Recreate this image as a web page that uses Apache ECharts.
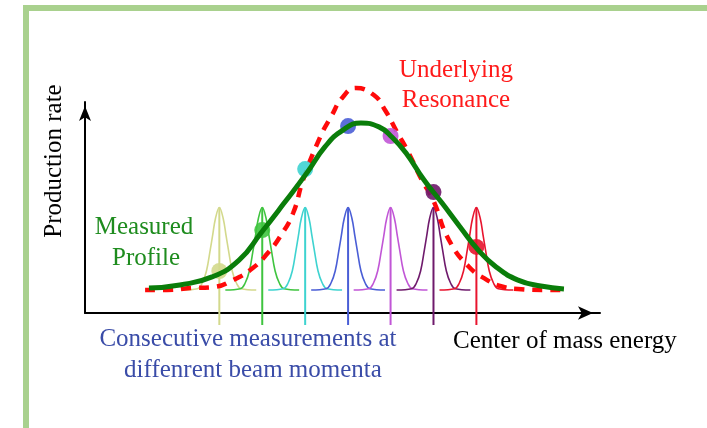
<!DOCTYPE html>
<html>
<head>
<meta charset="utf-8">
<script src="https://cdn.jsdelivr.net/npm/echarts@6/dist/echarts.min.js"></script>
<style>
  html, body { margin: 0; padding: 0; background: #fff; }
  #chart { width: 707px; height: 428px; }
</style>
</head>
<body>
<div id="chart"></div>
<script>
// centres of the beam momentum scans (energy units)
var peakCenters = [3.13, 4.13, 5.13, 6.13, 7.12, 8.12, 9.12];
// measured rate at each scan point
var dotRates = [1.99, 3.93, 6.82, 8.86, 8.39, 5.73, 3.13];
// shape of one beam energy spread
var peakOffsets = [-0.86, -0.51, -0.40, -0.30, -0.21, -0.16, -0.09, 0, 0.09, 0.16, 0.21, 0.30, 0.40, 0.51, 0.86];
var peakHeights = [1.09, 1.15, 1.41, 1.99, 3.02, 3.63, 4.48, 5.0, 4.48, 3.63, 3.02, 1.99, 1.41, 1.15, 1.09];
var peakLineBottom = -0.57;

// measured profile (green)
var profileX = [1.49, 2.21, 2.96, 3.59, 4.10, 4.64, 5.17, 5.59, 6.01, 6.43, 6.85, 7.15, 7.48, 7.90, 8.32, 8.74, 9.16, 9.58, 10.09, 10.62, 11.16];
var profileY = [1.18, 1.33, 1.71, 2.51, 3.79, 5.21, 6.64, 7.87, 8.67, 9.00, 8.82, 8.34, 7.58, 6.30, 5.21, 4.08, 2.99, 2.18, 1.56, 1.28, 1.14];

// underlying resonance (red dashed)
var resonanceX = [1.40, 1.91, 2.45, 2.98, 3.45, 3.91, 4.26, 4.54, 4.85, 5.08, 5.48, 5.73, 6.01, 6.31, 6.73, 6.99, 7.27, 7.53, 7.85, 8.11, 8.48, 8.95, 9.37, 9.67, 10.09, 10.76, 11.23];
var resonanceY = [1.09, 1.09, 1.18, 1.23, 1.56, 2.13, 2.84, 3.60, 4.74, 6.30, 8.34, 9.29, 10.24, 10.66, 10.33, 9.62, 8.58, 7.63, 6.30, 5.36, 3.46, 2.18, 1.56, 1.28, 1.14, 1.09, 1.09];

var peakColors = ['#d3d98c', '#3fc43f', '#3ed3d0', '#4a5ed6', '#c156d6', '#6f1a6c', '#e8142e'];
var serif = "'Liberation Serif', 'Times New Roman', serif";

function pairs(xs, ys) {
  var out = [];
  for (var i = 0; i < xs.length; i++) {
    out.push([xs[i], ys[i]]);
  }
  return out;
}

var series = [];

// small peaks and their markers
for (var i = 0; i < peakCenters.length; i++) {
  var c = peakCenters[i];
  var xs = peakOffsets.map(function(o) { return c + o; });
  series.push({
    type: 'line',
    data: pairs(xs, peakHeights),
    smooth: 0.4,
    showSymbol: false,
    clip: false,
    lineStyle: { color: peakColors[i], width: 1.6 },
    z: 2
  });
  series.push({
    type: 'line',
    data: [[c, peakHeights[7]], [c, peakLineBottom]],
    showSymbol: false,
    clip: false,
    lineStyle: { color: peakColors[i], width: 2 },
    z: 2
  });
}

series.push({
  type: 'line',
  data: pairs(resonanceX, resonanceY),
  smooth: 0.5,
  showSymbol: false,
  clip: false,
  lineStyle: { color: '#ff0a0a', width: 4.5, type: [10, 8], cap: 'butt' },
  z: 3
});

series.push({
  type: 'scatter',
  data: pairs(peakCenters, dotRates),
  symbolSize: 16,
  clip: false,
  itemStyle: {
    color: function(p) { return peakColors[p.dataIndex]; },
    opacity: 0.9
  },
  z: 4
});

series.push({
  type: 'line',
  data: pairs(profileX, profileY),
  smooth: 0.5,
  showSymbol: false,
  clip: false,
  lineStyle: { color: '#0a7d0a', width: 5 },
  z: 5
});

var chart = echarts.init(document.getElementById('chart'));
chart.setOption({
  animation: false,
  backgroundColor: '#fff',
  grid: { left: 85, right: 107, top: 102, bottom: 115 },
  xAxis: {
    type: 'value', min: 0, max: 12,
    axisLine: { lineStyle: { color: '#000', width: 2 }, symbol: ['none', 'arrow'], symbolSize: [10, 15], symbolOffset: [0, -7] },
    axisTick: { show: false }, axisLabel: { show: false }, splitLine: { show: false }
  },
  yAxis: {
    type: 'value', min: 0, max: 10,
    axisLine: { lineStyle: { color: '#000', width: 2 }, symbol: ['none', 'arrow'], symbolSize: [9, 15], symbolOffset: [0, -4] },
    axisTick: { show: false }, axisLabel: { show: false }, splitLine: { show: false }
  },
  series: series,
  graphic: [
    { type: 'rect', shape: { x: 26, y: 8, width: 800, height: 440 }, style: { fill: 'none', stroke: '#a9d18e', lineWidth: 6 }, silent: true },
    { type: 'text', x: 54, y: 161, rotation: Math.PI / 2, style: { text: 'Production rate', font: '25px ' + serif, fill: '#000', align: 'center', verticalAlign: 'middle' } },
    { type: 'text', x: 144, y: 227, style: { text: 'Measured', font: '25px ' + serif, fill: '#1e8c1e', align: 'center', verticalAlign: 'middle' } },
    { type: 'text', x: 146, y: 258, style: { text: 'Profile', font: '25px ' + serif, fill: '#1e8c1e', align: 'center', verticalAlign: 'middle' } },
    { type: 'text', x: 456, y: 70, style: { text: 'Underlying', font: '25px ' + serif, fill: '#ff1a1a', align: 'center', verticalAlign: 'middle' } },
    { type: 'text', x: 456, y: 100, style: { text: 'Resonance', font: '25px ' + serif, fill: '#ff1a1a', align: 'center', verticalAlign: 'middle' } },
    { type: 'text', x: 248, y: 339, style: { text: 'Consecutive measurements at', font: '25px ' + serif, fill: '#3a4ca8', align: 'center', verticalAlign: 'middle' } },
    { type: 'text', x: 253, y: 370, style: { text: 'diffenrent beam momenta', font: '25px ' + serif, fill: '#3a4ca8', align: 'center', verticalAlign: 'middle' } },
    { type: 'text', x: 453, y: 341, style: { text: 'Center of mass energy', font: '25px ' + serif, fill: '#000', align: 'left', verticalAlign: 'middle' } }
  ]
});
</script>
</body>
</html>
